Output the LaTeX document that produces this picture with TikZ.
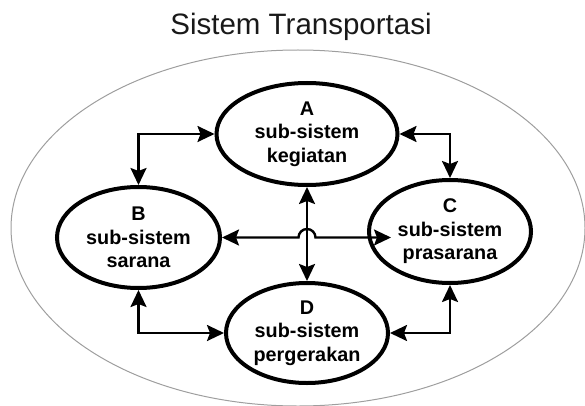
\documentclass[tikz,border=0pt]{standalone}
\usepackage{fontspec}
\setmainfont{Liberation Sans}
\usetikzlibrary{arrows.meta,calc,shapes.geometric}
\begin{document}
\begin{tikzpicture}[x=1pt,y=1pt,
  sub/.style={ellipse, draw=black, line width=4pt, inner sep=0pt, align=center,
    font=\bfseries\fontsize{19.8}{23.5}\selectfont},
  conn/.style={line width=2.4pt, {Stealth[length=17pt,width=16pt,inset=3pt]}-{Stealth[length=17pt,width=16pt,inset=3pt]}},
  outerline/.style={ellipse, draw=black!38, line width=1pt, inner sep=0pt}]
\useasboundingbox (0,0) rectangle (585,405);
\node[outerline, minimum width=574pt, minimum height=356pt] (sys) at (298,177) {};
\node[anchor=base, font=\fontsize{29.5}{34}\selectfont, text=black!90] (title) at (301,370) {Sistem Transportasi};
\node[sub, minimum width=181pt, minimum height=102pt] (A) at (307,271) {A\\sub-sistem\\kegiatan};
\node[sub, minimum width=163pt, minimum height=101pt] (B) at (138.5,167.5) {B\\sub-sistem\\sarana};
\node[sub, minimum width=162pt, minimum height=103pt] (C) at (450,173.5) {C\\sub-sistem\\prasarana};
\node[sub, minimum width=162pt, minimum height=100pt] (D) at (307,72) {D\\sub-sistem\\pergerakan};
\coordinate (cin) at ($(C.west |- B.east)+(24,0)$);
\draw[conn] (A.west) -| (B.north);
\draw[conn] (A.east) -| (C.north);
\draw[conn] (B.south) |- (D.west);
\draw[conn] (C.south) |- (D.east);
\draw[conn] (A.south) -- (D.north);
\draw[conn] (B.east) -- ($(A.south |- B.east)+(-8.5,0)$) arc[start angle=180,end angle=0,radius=8.5] -- (cin);
\end{tikzpicture}
\end{document}
